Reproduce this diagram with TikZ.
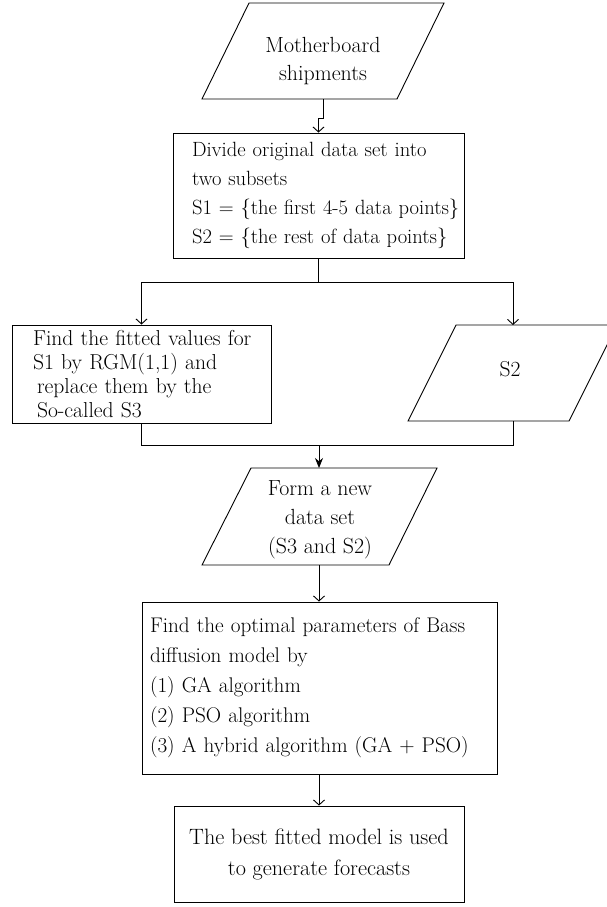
\documentclass[tikz,border=0pt]{standalone}
\usetikzlibrary{arrows.meta,calc}
\newcommand\tline[2]{\mbox{\hspace*{#1}#2}}
\begin{document}
\begin{tikzpicture}[x=1pt,y=-1pt,line width=0.9pt,
  txt/.style={inner sep=0pt,align=center},
  box/.style={draw,inner sep=0pt,align=left},
  arr/.style={-{Straight Barb[length=5pt,width=11pt,line width=0.9pt]}},
  farr/.style={-{Stealth[length=10pt,width=8pt]}}]
\useasboundingbox (0,0) rectangle (606,907);
% top parallelogram
\draw (249,3) -- (444,3) -- (397,99) -- (202,99) -- cycle;
\node[txt,font=\fontsize{21.9}{28}\selectfont] (n1) at (323,61) {Motherboard\\shipments};
\coordinate (n1s) at (323,99);
% box 2
\node[box,font=\fontsize{20.6}{29}\selectfont,minimum width=291pt,text width=291pt,minimum height=125pt] (b2) at (318.5,195.5)
 {\tline{19pt}{Divide original data set into}\\\tline{19pt}{two subsets}\\\tline{19pt}{S1 = \{the first 4-5 data points\}}\\\tline{19pt}{S2 = \{the rest of data points\}}};
% left box
\node[box,font=\fontsize{21.6}{24}\selectfont,minimum width=259pt,text width=259pt,minimum height=98pt] (b3) at (141.5,374)
 {\tline{21pt}{Find the fitted values for}\\\tline{21pt}{S1 by RGM(1,1) and}\\\tline{25pt}{replace them by the}\\\tline{25pt}{So-called S3}};
% S2 parallelogram
\draw (456,325) -- (617,325) -- (569,421) -- (408,421) -- cycle;
\node[txt,font=\fontsize{21.6}{28}\selectfont] (s2) at (510,369) {S2};
\coordinate (s2n) at (513,325);
\coordinate (s2s) at (513,421);
% form parallelogram
\draw (251,468) -- (437,468) -- (389,565) -- (202,565) -- cycle;
\node[txt,font=\fontsize{21.9}{29}\selectfont] (n4) at (320,520) {Form a new\\data set\\(S3 and S2)};
\coordinate (n4n) at (319,468);
\coordinate (n4s) at (319,565);
% box 5
\node[box,font=\fontsize{21.2}{30}\selectfont,minimum width=355pt,text width=355pt,minimum height=172pt] (b5) at (319.5,688)
 {\tline{8pt}{Find the optimal parameters of Bass}\\\tline{8pt}{diffusion model by}\\\tline{8pt}{(1) GA algorithm}\\\tline{8pt}{(2) PSO algorithm}\\\tline{8pt}{(3) A hybrid algorithm (GA + PSO)}};
% box 6
\node[draw,txt,font=\fontsize{22.2}{31}\selectfont,minimum width=290pt,minimum height=96pt] (b6) at (319,854)
 {The best fitted model is used\\to generate forecasts};
% connectors
\draw[arr] (n1s) -- ++(0,19) -| (b2.north);
\coordinate (sp) at (318.5,282);
\draw (b2.south) -- (sp);
\draw[arr] (sp) -| (b3.north);
\draw[arr] (sp) -| (s2n);
\coordinate (mg) at (319,445);
\draw (b3.south) |- (mg);
\draw (s2s) |- (mg);
\draw[farr] (mg) -- (n4n);
\draw[arr] (n4s) -- (n4s |- b5.north);
\draw[arr] (b5.south -| n4s) -- (n4s |- b6.north);
\end{tikzpicture}
\end{document}
